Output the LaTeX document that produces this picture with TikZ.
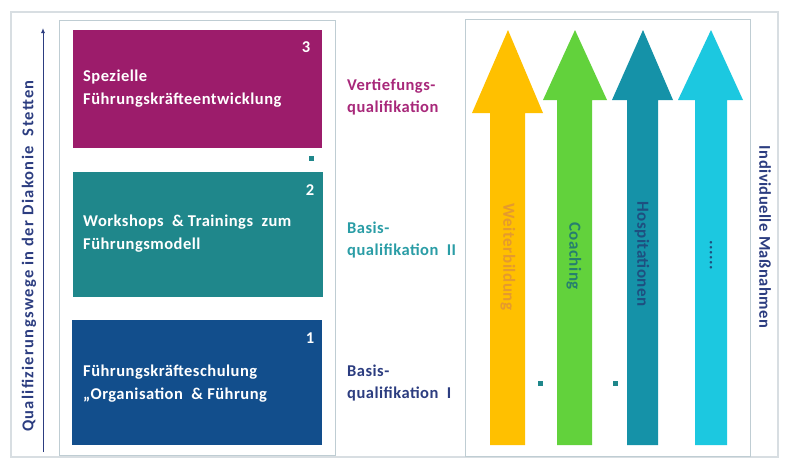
\documentclass[tikz,border=0pt]{standalone}
\usepackage{fontspec}
\setmainfont{Carlito}[LetterSpace=3]
\newfontfamily\widefont{Carlito}[LetterSpace=8]
\usetikzlibrary{arrows.meta}
\definecolor{cMag}{HTML}{9C1C6B}
\definecolor{cTeal}{HTML}{1F878B}
\definecolor{cNavy}{HTML}{124E8C}
\definecolor{cYel}{HTML}{FFC000}
\definecolor{cGrn}{HTML}{62D23C}
\definecolor{cDTeal}{HTML}{1592A8}
\definecolor{cCyan}{HTML}{1CC8E0}
\definecolor{cLMag}{HTML}{A8287A}
\definecolor{cLTeal}{HTML}{2A9DA6}
\definecolor{cLNavy}{HTML}{2C3D80}
\definecolor{cFrame}{HTML}{D8DEE2}
\definecolor{cInner}{HTML}{BFCDD3}
\definecolor{cWtxt}{HTML}{E59A2E}
\definecolor{cCtxt}{HTML}{267F6E}
\definecolor{cHtxt}{HTML}{1E4F80}
\begin{document}
\begin{tikzpicture}[x=1pt,y=-1pt,
  boxtext/.style={text=white,font=\fontsize{16.5}{23}\selectfont\bfseries,align=left,anchor=west,inner sep=0pt},
  numtext/.style={text=white,font=\fontsize{16.5}{20}\selectfont\bfseries,inner sep=0pt},
  lvl/.style={font=\fontsize{16.5}{22}\selectfont\bfseries,align=left,anchor=west,inner sep=0pt},
  arrtext/.style={font=\fontsize{17}{20}\selectfont\bfseries,rotate=-90,inner sep=0pt},
  sidetext/.style={font=\fontsize{16.5}{20}\selectfont\bfseries,text=cLNavy,inner sep=0pt},
  dot/.style={fill=cTeal,minimum size=5pt,inner sep=0pt}]
\useasboundingbox (0,0) rectangle (785,459);
\fill[white] (0,0) rectangle (785,459);
% frames
\draw[cFrame,line width=1.2pt] (11,12) rectangle (778,457);
\draw[cInner,line width=1pt] (59,20) rectangle (335,455);
\draw[cInner,line width=1pt] (465,19) rectangle (750,456);
% axis
\coordinate (axb) at (43,452);
\coordinate (axt) at (43,28);
\draw[cLNavy,line width=1pt,-{Latex[length=5pt,width=4pt]}] (axb) -- (axt);
\node[sidetext,rotate=90] (lefttext) at (29,256) {\widefont Qualifizierungswege in der Diakonie~~Stetten};
\node[sidetext,rotate=-90] (righttext) at (765,237) {Individuelle Maßnahmen};
% boxes
\fill[cMag] (73,30) rectangle (322,148);
\fill[cTeal] (73,172) rectangle (323,297);
\fill[cNavy] (72,320) rectangle (322,445);
\node[numtext] (n3) at (306,47) {3};
\node[numtext] (n2) at (310,190) {2};
\node[numtext] (n1) at (310,338) {1};
\node[boxtext] (t3) at (83,89) {Spezielle\\Führungskräfteentwicklung};
\node[boxtext] (t2) at (83,234) {Workshops~~\& Trainings~~zum\\Führungsmodell};
\node[boxtext] (t1) at (83,384) {Führungskräfteschulung\\„Organisation~~\& Führung};
% level labels
\node[lvl,text=cLMag] (l3) at (347,97) {Vertiefungs-\\qualifikation};
\node[lvl,text=cLTeal] (l2) at (347,240) {Basis-\\qualifikation~~II};
\node[lvl,text=cLNavy] (l1) at (347,383) {Basis-\\qualifikation~~I};
% arrows
\fill[cYel] (490,445) -- (490,113) -- (472,113) -- (508,30) -- (543,113) -- (525,113) -- (525,445) -- cycle;
\fill[cGrn] (557,445) -- (557,100) -- (543,100) -- (575,30) -- (607,100) -- (592,100) -- (592,445) -- cycle;
\fill[cDTeal] (627,445) -- (627,100) -- (612,100) -- (643,30) -- (673,100) -- (658,100) -- (658,445) -- cycle;
\fill[cCyan] (695,445) -- (695,100) -- (678,100) -- (711,30) -- (743,100) -- (727,100) -- (727,445) -- cycle;
\node[arrtext,text=cWtxt] (a1) at (508,257) {Weiterbildung};
\node[arrtext,text=cCtxt] (a2) at (574,256) {Coaching};
\node[arrtext,text=cHtxt] (a3) at (642,254) {Hospitationen};
\node[arrtext,text=cHtxt] (a4) at (711,255) {......};
% dots
\node[dot] (d1) at (311,158) {};
\node[dot] (d2) at (540,383) {};
\node[dot] (d3) at (615,383) {};
\end{tikzpicture}
\end{document}
